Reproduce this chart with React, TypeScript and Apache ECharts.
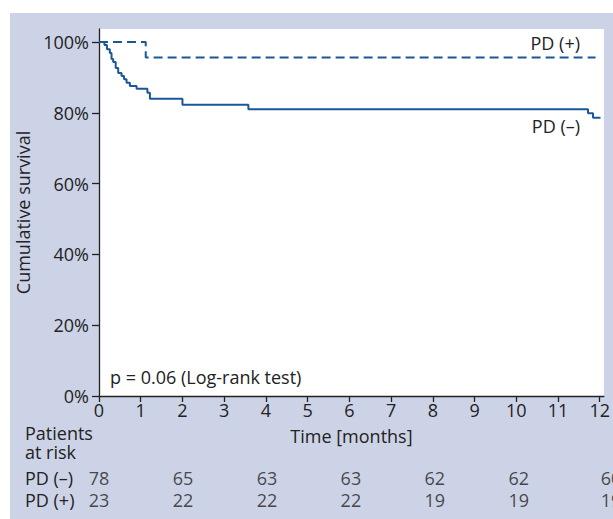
import React, { useEffect, useRef } from "react";
import * as echarts from "echarts";

const monthTicks = [0, 1, 2, 3, 4, 5, 6, 7, 8, 9, 10, 11, 12];
const survivalTicks = [0, 20, 40, 60, 80, 100];

// Kaplan-Meier steps: [month, cumulative survival %]
const pdNegCurve: [number, number][] = [
  [0, 100], [0.13, 99.2], [0.19, 98.0], [0.26, 96.9], [0.3, 95.2], [0.34, 94.4],
  [0.4, 92.7], [0.46, 91.3], [0.54, 90.4], [0.6, 89.5], [0.66, 88.5], [0.74, 87.6],
  [0.9, 86.8], [1.16, 85.7], [1.22, 84.0], [2.0, 82.3], [3.58, 81.0],
  [11.72, 79.9], [11.84, 78.6], [12.02, 78.6],
];
const pdPosCurve: [number, number][] = [
  [0, 100], [1.12, 95.65], [11.9, 95.65],
];

const groupNames = ["PD (+)", "PD (\u2013)"];
const riskMonths = [0, 2, 4, 6, 8, 10, 12];
const riskNeg = [78, 65, 63, 63, 62, 62, 60];
const riskPos = [23, 22, 22, 22, 19, 19, 19];
const riskTitle = ["Patients", "at risk"];

const FONT = "'Open Sans', 'Noto Sans', sans-serif";
const TXT = "#222";
const LINE = "#1b5797";

export default function App() {
  const ref = useRef<HTMLDivElement>(null);
  useEffect(() => {
    if (!ref.current) return;
    const chart = echarts.init(ref.current, undefined, { renderer: "svg" });
    const riskSeries = (name: string, vals: number[]) => ({
      type: "scatter",
      xAxisIndex: 1,
      yAxisIndex: 1,
      symbolSize: 0,
      silent: true,
      data: riskMonths.map((m, i) => {
        const item: any = { value: [m, name, vals[i]] };
        if (i === riskMonths.length - 1) item.label = { align: "left", offset: [-2, 0] };
        return item;
      }),
      label: {
        show: true,
        position: "inside",
        formatter: (p: any) => String(p.value[2]),
        fontSize: 18,
        fontFamily: FONT,
        color: TXT,
      },
    });
    const txt = (text: string, x: number, y: number, align: string) => ({
      type: "text",
      x,
      y,
      style: { text, fontSize: 18, lineHeight: 18, fill: TXT, fontFamily: FONT, align, verticalAlign: "middle" },
    });
    chart.setOption({
      animation: false,
      textStyle: { fontFamily: FONT },
      grid: [
        { left: 99, right: 6, top: 29, bottom: 123, show: true, backgroundColor: "#fff", borderWidth: 0 },
        { left: 99, right: 6, top: 467, height: 44 },
      ],
      xAxis: [
        {
          type: "value",
          gridIndex: 0,
          min: 0,
          max: 12.1,
          splitLine: { show: false },
          axisLine: { show: true, lineStyle: { color: TXT, width: 1.3 } },
          axisTick: { show: true, customValues: monthTicks, length: 6, lineStyle: { color: TXT, width: 1.3 } },
          axisLabel: { customValues: monthTicks, fontSize: 18, color: TXT, margin: 5, fontFamily: FONT },
          name: "Time [months]",
          nameLocation: "middle",
          nameGap: 31,
          nameTextStyle: { fontSize: 18, color: TXT, fontFamily: FONT },
        },
        { type: "value", gridIndex: 1, min: 0, max: 12.1, show: false },
      ],
      yAxis: [
        {
          type: "value",
          gridIndex: 0,
          min: 0,
          max: 103.7,
          splitLine: { show: false },
          axisLine: { show: true, lineStyle: { color: TXT, width: 1.3 } },
          axisTick: { show: true, customValues: survivalTicks, length: 7, lineStyle: { color: TXT, width: 1.3 } },
          axisLabel: { customValues: survivalTicks, formatter: "{value}%", fontSize: 18, color: TXT, margin: 10, fontFamily: FONT },
          name: "Cumulative survival",
          nameLocation: "middle",
          nameGap: 57,
          nameRotate: 90,
          nameTextStyle: { fontSize: 18, color: TXT, fontFamily: FONT },
        },
        {
          type: "category",
          gridIndex: 1,
          data: groupNames,
          axisLine: { show: false },
          axisTick: { show: false },
          splitLine: { show: false },
          axisLabel: { interval: 0, align: "left", margin: 74, fontSize: 18, color: TXT, fontFamily: FONT },
        },
      ],
      series: [
        {
          type: "line",
          name: groupNames[1],
          step: "end",
          data: pdNegCurve,
          symbol: "none",
          lineStyle: { color: LINE, width: 2 },
        },
        {
          type: "line",
          name: groupNames[0],
          step: "end",
          data: pdPosCurve,
          symbol: "none",
          lineStyle: { color: LINE, width: 2, type: [9, 5] },
        },
        riskSeries(groupNames[1], riskNeg),
        riskSeries(groupNames[0], riskPos),
      ],
      graphic: [
        txt(groupNames[0], 580, 43, "right"),
        txt(groupNames[1], 580, 126, "right"),
        txt("p = 0.06 (Log-rank test)", 110, 377, "left"),
        txt(riskTitle[0], 25, 433, "left"),
        txt(riskTitle[1], 25, 452, "left"),
      ],
    });
    return () => chart.dispose();
  }, []);
  return (
    <div style={{ position: "absolute", left: 0, top: 0, width: 613, height: 519, background: "#fff", overflow: "hidden" }}>
      <div style={{ position: "absolute", left: 10, top: 13, width: 603, height: 506, background: "#cdd3e6" }} />
      <div ref={ref} style={{ position: "absolute", left: 0, top: 0, width: 613, height: 519 }} />
    </div>
  );
}
